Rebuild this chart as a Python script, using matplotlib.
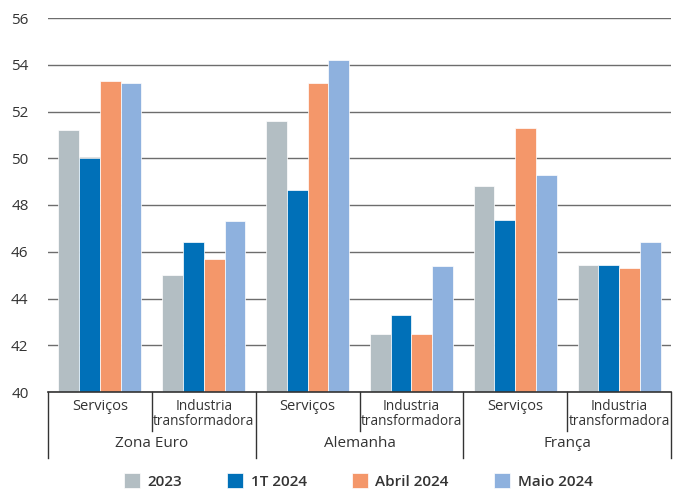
import numpy as np
import matplotlib.pyplot as plt
from matplotlib.transforms import blended_transform_factory

plt.rcParams['font.family'] = ['Open Sans', 'DejaVu Sans']

# Data
countries = ["Zona Euro", "Alemanha", "França"]
sectors = ["Serviços", "Industria\ntransformadora"]
series = ["2023", "1T 2024", "Abril 2024", "Maio 2024"]
v2023 = [51.2, 45.0, 51.6, 42.5, 48.8, 45.45]
v1t2024 = [50.0, 46.4, 48.65, 43.3, 47.35, 45.45]
vabr2024 = [53.3, 45.7, 53.2, 42.5, 51.3, 45.3]
vmai2024 = [53.2, 47.3, 54.2, 45.4, 49.3, 46.4]
colors = ["#B3BEC3", "#0070B8", "#F4976A", "#8EB1DE"]

values = [v2023, v1t2024, vabr2024, vmai2024]
n_cat = len(countries) * len(sectors)
x = np.arange(n_cat) + 0.5
width = 0.2
txt = "#333333"

fig = plt.figure(figsize=(6.78, 4.92), dpi=100)
ax = fig.add_axes([48 / 678, 1 - 392 / 492, 623 / 678, 374 / 492])
ax.set_axisbelow(True)

for i, (vals, col, lab) in enumerate(zip(values, colors, series)):
    ax.bar(x + (i - 1.5) * width, np.array(vals) - 40, width, bottom=40,
           color=col, edgecolor="white", linewidth=0.5, label=lab, zorder=3)

ax.set_xlim(0, n_cat)
ax.set_ylim(40, 56)
ax.set_yticks(np.arange(40, 57, 2))
ax.tick_params(axis="y", length=0, pad=14, labelsize=11, labelcolor=txt)
ax.set_xticks([])
ax.yaxis.grid(True, color="#6d6d6d", linewidth=1.0)
for s in ["left", "right", "top"]:
    ax.spines[s].set_visible(False)
ax.spines["bottom"].set_color(txt)
ax.spines["bottom"].set_linewidth(1.2)
ax.spines["bottom"].set_zorder(4)

# category labels and separators below the axis
trans = blended_transform_factory(ax.transData, ax.transAxes)
h = 374  # axes height in px


def ay(px):
    return -px / h


for k in range(n_cat + 1):
    depth = 66 if k % 2 == 0 else 39
    ax.plot([k, k], [0, ay(depth)], transform=trans, color=txt,
            linewidth=1.0, clip_on=False)

for k in range(n_cat):
    lab = sectors[k % 2]
    ax.text(k + 0.5, ay(7), lab, transform=trans, ha="center", va="top",
            fontsize=10.5 if "\n" not in lab else 9.8, color=txt,
            linespacing=1.0)

for c, name in enumerate(countries):
    ax.text(2 * c + 1, ay(44), name, transform=trans, ha="center", va="top",
            fontsize=11, color=txt)

fig.legend(loc="center", bbox_to_anchor=(0.528, 1 - 481 / 492), ncol=4,
           frameon=False, handlelength=1.05, handleheight=1.05,
           columnspacing=2.95, handletextpad=0.5,
           prop={"size": 11, "weight": "semibold"}, labelcolor=txt)

fig.savefig("out.png", dpi=100)
